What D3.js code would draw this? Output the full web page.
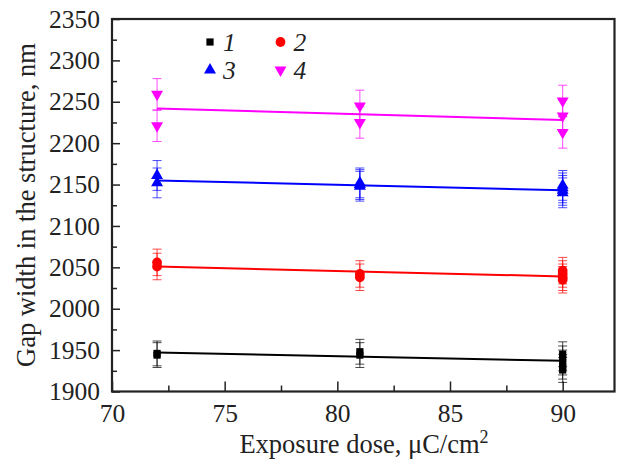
<!DOCTYPE html>
<html>
<head>
<meta charset="utf-8">
<script src="https://cdn.jsdelivr.net/npm/d3@7/dist/d3.min.js"></script>
<style>
  html, body { margin: 0; padding: 0; background: #fff; }
  svg { display: block; }
</style>
</head>
<body>
<svg id="chart" width="619" height="459"></svg>
<script>
// Exposure doses (µC/cm²) at which the structures were measured
const doses = [72, 81, 90];

// Measured gap widths (nm), one list of replicate measurements per dose
const series1 = [[1946, 1944], [1948, 1944], [1945, 1940, 1935, 1930, 1926]];
const series2 = [[2056, 2051], [2042, 2038], [2046, 2042, 2038, 2035]];
const series3 = [[2161, 2152], [2152, 2150, 2148], [2149, 2146, 2143, 2140]];
const series4 = [[2259, 2221], [2245, 2225], [2251, 2233, 2213]];

// Half-width of the error bars (nm)
const errors = [15, 16, 18, 19];

// Linear fits: gap width at the first and last dose
const fitStart = [1947, 2051, 2155, 2242];
const fitEnd = [1937, 2039, 2143, 2228];

const seriesLabels = ["1", "2", "3", "4"];
const seriesColors = ["#000000", "#ff0000", "#0000ff", "#ff00ff"];
const seriesShapes = ["square", "circle", "triangle", "triangleDown"];

const xTicks = [70, 75, 80, 85, 90];
const xMinorTicks = [72.5, 77.5, 82.5, 87.5];
const yTicks = [1900, 1950, 2000, 2050, 2100, 2150, 2200, 2250, 2300, 2350];
const yMinorTicks = [1925, 1975, 2025, 2075, 2125, 2175, 2225, 2275, 2325];

const allSeries = [series1, series2, series3, series4];

const svg = d3.select("#chart");
const plotLeft = 112, plotRight = 614.5, plotTop = 19, plotBottom = 391.5;
const serif = "Liberation Serif";
const ink = "#222";

const x = d3.scaleLinear().domain([70, 92.3]).range([plotLeft, plotRight]);
const y = d3.scaleLinear().domain([1900, 2350]).range([plotBottom, plotTop]);

const symbolFor = {
  square: { type: d3.symbolSquare, size: 52, rot: 0 },
  circle: { type: d3.symbolCircle, size: 75, rot: 0 },
  triangle: { type: d3.symbolTriangle, size: 62, rot: 0 },
  triangleDown: { type: d3.symbolTriangle, size: 62, rot: 180 }
};
function markerPath(shape) {
  return d3.symbol().type(symbolFor[shape].type).size(symbolFor[shape].size)();
}

// Axes with inward ticks
const tickFont = 25.5;
const titleFont = 26.5;
const fmt = d3.format("d");
const xAxis = d3.axisBottom(x).tickValues(xTicks).tickFormat(fmt).tickSizeInner(-10).tickSizeOuter(0).tickPadding(12);
const xMinor = d3.axisBottom(x).tickValues(xMinorTicks).tickSizeInner(-6).tickSizeOuter(0).tickFormat("");
const yAxis = d3.axisLeft(y).tickValues(yTicks).tickFormat(fmt).tickSizeInner(-8).tickSizeOuter(0).tickPadding(12);
const yMinor = d3.axisLeft(y).tickValues(yMinorTicks).tickSizeInner(-5).tickSizeOuter(0).tickFormat("");

function styleAxis(g) {
  g.attr("font-family", serif).attr("font-size", tickFont);
  g.select(".domain").remove();
  g.selectAll(".tick line").attr("stroke", ink).attr("stroke-width", 1.5);
  g.selectAll(".tick text")
    .style("font-size", tickFont + "px")
    .style("font-family", serif)
    .attr("fill", ink);
}

svg.append("g").attr("transform", `translate(0,${plotBottom})`).call(xAxis).call(styleAxis);
svg.append("g").attr("transform", `translate(0,${plotBottom})`).call(xMinor).call(styleAxis);
svg.append("g").attr("transform", `translate(${plotLeft},0)`).call(yAxis).call(styleAxis);
svg.append("g").attr("transform", `translate(${plotLeft},0)`).call(yMinor).call(styleAxis);

// Plot frame
svg.append("rect")
  .attr("x", plotLeft).attr("y", plotTop)
  .attr("width", plotRight - plotLeft).attr("height", plotBottom - plotTop)
  .attr("fill", "none").attr("stroke", ink).attr("stroke-width", 2.2);

// Fit lines
const plot = svg.append("g");
allSeries.forEach((s, i) => {
  plot.append("line")
    .attr("x1", x(doses[0])).attr("y1", y(fitStart[i]))
    .attr("x2", x(doses[doses.length - 1])).attr("y2", y(fitEnd[i]))
    .attr("stroke", seriesColors[i]).attr("stroke-width", 2);
});

// Error bars and markers
allSeries.forEach((s, i) => {
  const pts = [];
  s.forEach((vals, j) => vals.forEach(v => pts.push({ dose: doses[j], v })));
  const g = plot.append("g");
  const capW = 4.5;
  pts.forEach(p => {
    const cx = x(p.dose);
    const y0 = y(p.v - errors[i]), y1 = y(p.v + errors[i]);
    g.append("line").attr("x1", cx).attr("x2", cx).attr("y1", y0).attr("y2", y1)
      .attr("stroke", seriesColors[i]).attr("stroke-width", 1).attr("opacity", 0.7);
    [y0, y1].forEach(yy => g.append("line")
      .attr("x1", cx - capW).attr("x2", cx + capW).attr("y1", yy).attr("y2", yy)
      .attr("stroke", seriesColors[i]).attr("stroke-width", 1).attr("opacity", 0.7));
  });
  g.selectAll("path.marker").data(pts).join("path")
    .attr("class", "marker")
    .attr("d", markerPath(seriesShapes[i]))
    .attr("transform", d => `translate(${x(d.dose)},${y(d.v)}) rotate(${symbolFor[seriesShapes[i]].rot})`)
    .attr("fill", seriesColors[i]);
});

// Legend
const legendPos = [[210, 42], [280.5, 42], [210, 70], [280.5, 70]];
seriesLabels.forEach((lab, i) => {
  const [lx, ly] = legendPos[i];
  svg.append("path")
    .attr("d", markerPath(seriesShapes[i]))
    .attr("transform", `translate(${lx},${ly}) rotate(${symbolFor[seriesShapes[i]].rot})`)
    .attr("fill", seriesColors[i]);
  svg.append("text")
    .attr("x", lx + 13).attr("y", ly + 9)
    .attr("fill", ink)
    .style("font-family", serif)
    .style("font-size", tickFont + "px").style("font-style", "italic")
    .text(lab);
});

// Axis titles
const xt = svg.append("text")
  .attr("x", 364).attr("y", 452.5)
  .attr("text-anchor", "middle")
  .attr("fill", ink)
  .style("font-family", serif)
  .style("font-size", titleFont + "px");
xt.append("tspan").text("Exposure dose, μC/cm");
xt.append("tspan").attr("dy", -10).style("font-size", "18px").text("2");

svg.append("text")
  .attr("transform", "translate(35,205) rotate(-90)")
  .attr("text-anchor", "middle")
  .attr("fill", ink)
  .style("font-family", serif)
  .style("font-size", titleFont + "px")
  .text("Gap width in the structure, nm");
</script>
</body>
</html>
